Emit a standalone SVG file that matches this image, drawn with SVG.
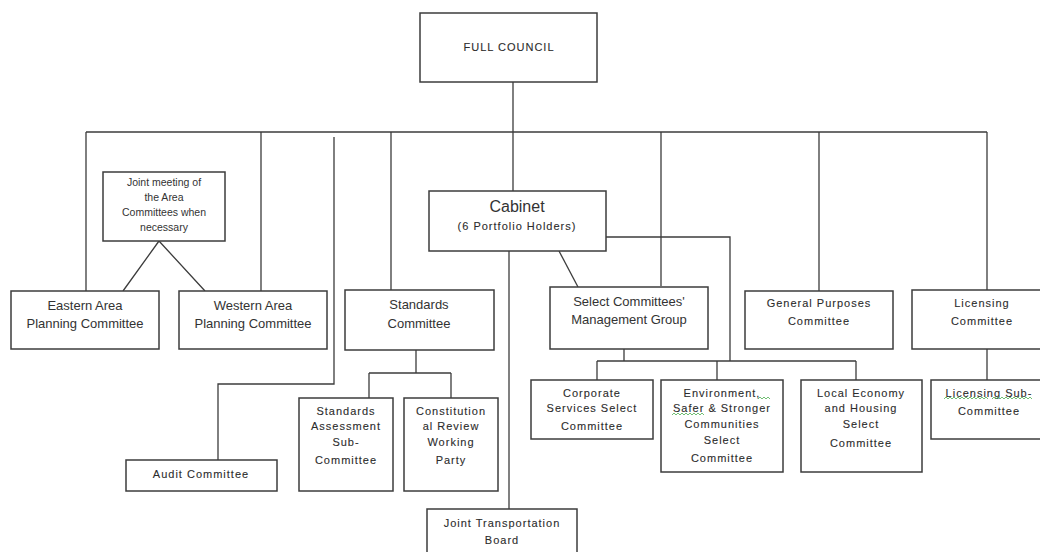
<svg xmlns="http://www.w3.org/2000/svg" width="1040" height="552" viewBox="0 0 1040 552">
<style>
.b{fill:#fff;stroke:#3c3c3c;stroke-width:1.5}
.c{fill:none;stroke:#3c3c3c;stroke-width:1.3}
.s{fill:none;stroke:#4caf50;stroke-width:0.8}
text{font-family:"Liberation Sans",Arial,sans-serif;fill:#333;text-anchor:middle}
.t13{font-size:13px}
.t11{font-size:11px;letter-spacing:1px;fill:#2c2c2c;stroke:#2c2c2c;stroke-width:0.1}
.t10{font-size:10.5px}
</style>
<rect width="1040" height="552" fill="#fff"/>
<g id="connectors">
<path class="c" d="M513 82V132M86 132H987M86 132V291M261 132V291M391 132V290M513 132V191M661 132V286M819 132V291M987 132V290"/>
<path class="c" d="M159 241L123 291M159 241L205 291"/>
<path class="c" d="M334 137V384H218V460"/>
<path class="c" d="M416 349V373M369 373H451M369 373V398M451 373V398"/>
<path class="c" d="M509 251V509"/>
<path class="c" d="M559 251L578 287"/>
<path class="c" d="M602 237H730V361"/>
<path class="c" d="M624 349V361M597 361H856M597 361V380M717 361V380M856 361V380"/>
<path class="c" d="M987 349V380"/>
</g>
<g id="full-council"><rect class="b" x="420" y="13" width="177" height="69"/><text class="t11" x="509" y="51">FULL COUNCIL</text></g>
<g id="joint-meeting"><rect class="b" x="103" y="172" width="122" height="69"/>
<text class="t10" x="164" y="186">Joint meeting of</text><text class="t10" x="164" y="201">the Area</text><text class="t10" x="164" y="216">Committees when</text><text class="t10" x="164" y="231">necessary</text></g>
<g id="eastern"><rect class="b" x="11" y="291" width="148" height="58"/><text class="t13" x="85" y="310">Eastern Area</text><text class="t13" x="85" y="328">Planning Committee</text></g>
<g id="western"><rect class="b" x="179" y="291" width="148" height="58"/><text class="t13" x="253" y="310">Western Area</text><text class="t13" x="253" y="328">Planning Committee</text></g>
<g id="cabinet"><rect class="b" x="429" y="191" width="177" height="60"/><text x="517" y="212" style="font-size:16px">Cabinet</text><text class="t11" x="517" y="230">(6 Portfolio Holders)</text></g>
<g id="standards"><rect class="b" x="345" y="290" width="149" height="60"/><text class="t13" x="419" y="309">Standards</text><text class="t13" x="419" y="328">Committee</text></g>
<g id="select-mgmt"><rect class="b" x="550" y="287" width="158" height="62"/><text class="t13" x="629" y="306">Select Committees'</text><text class="t13" x="629" y="324">Management Group</text></g>
<g id="general-purposes"><rect class="b" x="745" y="291" width="148" height="58"/><text class="t11" x="819" y="307">General Purposes</text><text class="t11" x="819" y="325">Committee</text></g>
<g id="licensing"><rect class="b" x="912" y="290" width="140" height="59"/><text class="t11" x="982" y="307">Licensing</text><text class="t11" x="982" y="325">Committee</text></g>
<g id="licensing-sub"><rect class="b" x="931" y="380" width="118" height="59"/><text class="t11" x="989" y="397">Licensing Sub-</text><text class="t11" x="989" y="415">Committee</text>
<path class="s" d="M944 399l2-2 2 2 2-2 2 2 2-2 2 2 2-2 2 2 2-2 2 2 2-2 2 2 2-2 2 2 2-2 2 2 2-2 2 2 2-2 2 2 2-2 2 2M992 399l2-2 2 2 2-2 2 2 2-2 2 2 2-2 2 2 2-2 2 2 2-2 2 2 2-2 2 2 2-2 2 2 2-2 2 2 2-2 2 2"/></g>
<g id="audit"><rect class="b" x="126" y="460" width="151" height="31"/><text class="t11" x="201" y="478">Audit Committee</text></g>
<g id="standards-assessment"><rect class="b" x="299" y="398" width="94" height="93"/>
<text class="t11" x="346" y="415">Standards</text><text class="t11" x="346" y="430">Assessment</text><text class="t11" x="346" y="446">Sub-</text><text class="t11" x="346" y="464">Committee</text></g>
<g id="constitutional"><rect class="b" x="404" y="398" width="94" height="93"/>
<text class="t11" x="451" y="415">Constitution</text><text class="t11" x="451" y="430">al Review</text><text class="t11" x="451" y="446">Working</text><text class="t11" x="451" y="464">Party</text></g>
<g id="corporate"><rect class="b" x="531" y="380" width="122" height="59"/>
<text class="t11" x="592" y="397">Corporate</text><text class="t11" x="592" y="412">Services Select</text><text class="t11" x="592" y="430">Committee</text></g>
<g id="environment"><rect class="b" x="661" y="380" width="122" height="92"/>
<text class="t11" x="722" y="397">Environment,</text><text class="t11" x="722" y="412">Safer &amp; Stronger</text><text class="t11" x="722" y="428">Communities</text><text class="t11" x="722" y="444">Select</text><text class="t11" x="722" y="462">Committee</text>
<path class="s" d="M758 399l2-2 2 2 2-2 2 2 2-2 2 2M672 415l2-2 2 2 2-2 2 2 2-2 2 2 2-2 2 2 2-2 2 2 2-2 2 2 2-2 2 2 2-2 2 2"/></g>
<g id="local-economy"><rect class="b" x="801" y="380" width="121" height="92"/>
<text class="t11" x="861" y="397">Local Economy</text><text class="t11" x="861" y="412">and Housing</text><text class="t11" x="861" y="428">Select</text><text class="t11" x="861" y="447">Committee</text></g>
<g id="joint-transport"><rect class="b" x="427" y="509" width="150" height="60"/><text class="t11" x="502" y="527">Joint Transportation</text><text class="t11" x="502" y="544">Board</text></g>
</svg>
